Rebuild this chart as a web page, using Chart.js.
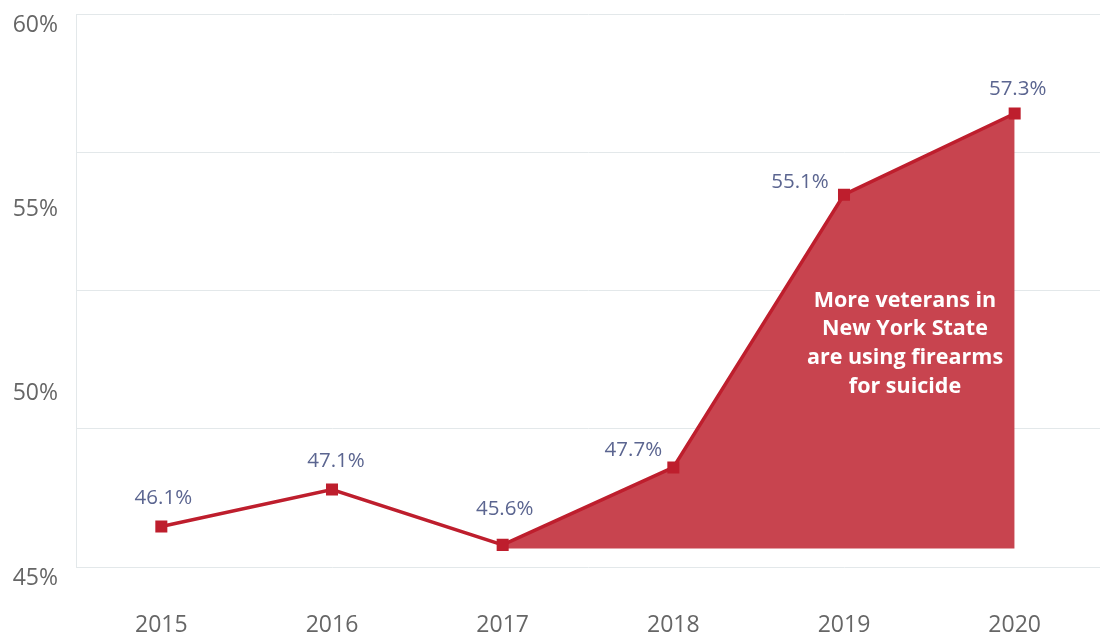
<!DOCTYPE html>
<html>
<head>
<meta charset="utf-8">
<script src="https://cdn.jsdelivr.net/npm/chart.js@4/dist/chart.umd.min.js"></script>
<style>
  html, body { margin: 0; padding: 0; background: #fff; }
  #wrap { width: 1100px; height: 634px; }
</style>
</head>
<body>
<div id="wrap"><canvas id="chart" width="1100" height="634"></canvas></div>
<script>
const years = ["2015", "2016", "2017", "2018", "2019", "2020"];
const firearmShare = [46.1, 47.1, 45.6, 47.7, 55.1, 57.3];
// shaded part only covers the rise from 2017 on
const shadedShare = [null, null, 45.6, 47.7, 55.1, 57.3];
const noteLines = ["More veterans in", "New York State", "are using firearms", "for suicide"];

// label nudges relative to each point (dx, dy)
const labelNudge = [[2, -28], [4, -28], [2, -36], [-40, -17], [-44, -12], [3, -24]];

const pointLabels = {
    id: "pointLabels",
    afterDatasetsDraw(chart) {
        const ctx = chart.ctx;
        const meta = chart.getDatasetMeta(0);
        ctx.save();
        ctx.font = "20.5px 'Open Sans', sans-serif";
        ctx.fillStyle = "#5b6590";
        ctx.textAlign = "center";
        ctx.textBaseline = "middle";
        meta.data.forEach((pt, i) => {
            const n = labelNudge[i];
            ctx.fillText(firearmShare[i].toFixed(1) + "%", pt.x + n[0], pt.y + n[1]);
        });

        // note inside the shaded area
        const x = chart.scales.x.getPixelForValue(4) + 61;
        let y = chart.scales.y.getPixelForValue(52.5) + 10;
        ctx.font = "bold 21.5px 'Open Sans', sans-serif";
        ctx.fillStyle = "#ffffff";
        noteLines.forEach(line => {
            ctx.fillText(line, x, y);
            y += 28.7;
        });
        ctx.restore();
    }
};

// drop the room Chart.js keeps for overhanging labels
function noOverhang(s) {
    s.paddingTop = 0;
    s.paddingBottom = 0;
    s.paddingLeft = 0;
    s.paddingRight = 0;
}

new Chart(document.getElementById("chart"), {
    type: "line",
    data: {
        labels: years,
        datasets: [
            {
                data: firearmShare,
                borderColor: "#be1e2d",
                backgroundColor: "#be1e2d",
                borderWidth: 3.5,
                pointStyle: "rect",
                pointRadius: 8.5,
                pointBackgroundColor: "#be1e2d",
                pointBorderWidth: 0,
                fill: false,
                tension: 0
            },
            {
                data: shadedShare,
                borderWidth: 0,
                pointRadius: 0,
                backgroundColor: "#c8444f",
                fill: { value: 45.5 },
                tension: 0
            }
        ]
    },
    options: {
        responsive: false,
        animation: false,
        layout: { autoPadding: false, padding: { top: 14, right: 0, left: 0, bottom: 0 } },
        plugins: {
            legend: { display: false },
            tooltip: { enabled: false }
        },
        scales: {
            x: {
                offset: true,
                grid: { display: false },
                border: { display: false },
                ticks: {
                    color: "#666",
                    font: { family: "'Open Sans', sans-serif", size: 23 },
                    padding: 37
                },
                afterFit: s => { s.height = 67; noOverhang(s); }
            },
            y: {
                min: 45,
                max: 60,
                position: "left",
                ticks: { display: false, stepSize: 3.75 },
                grid: { color: "#e3e8ea", drawTicks: false, lineWidth: 1 },
                border: { display: true, color: "#e3e8ea" },
                afterFit: s => { s.width = 0; noOverhang(s); }
            },
            yl: {
                min: 45,
                max: 60,
                position: "left",
                grid: { display: false },
                border: { display: false },
                ticks: {
                    stepSize: 5,
                    color: "#666",
                    padding: 10,
                    labelOffset: 11,
                    font: { family: "'Open Sans', sans-serif", size: 23 },
                    callback: v => v + "%"
                },
                afterFit: s => { s.width = 76; noOverhang(s); }
            }
        }
    },
    plugins: [pointLabels]
});
</script>
</body>
</html>
